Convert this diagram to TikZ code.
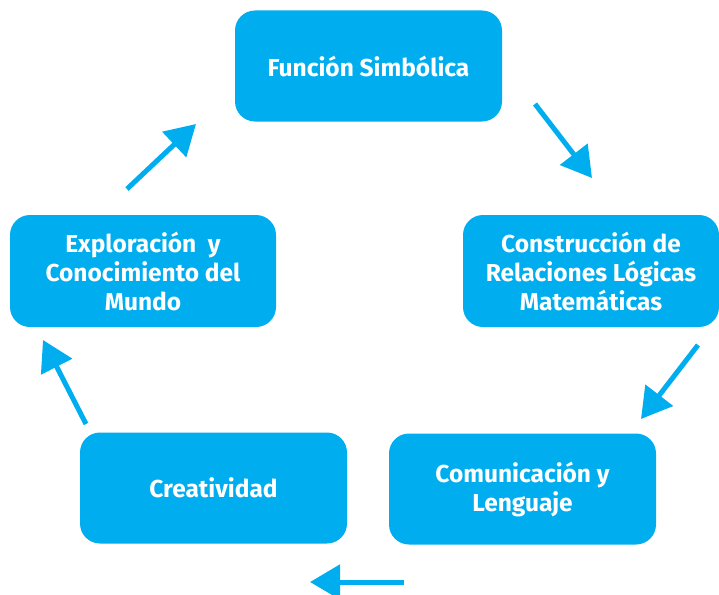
\documentclass[tikz,border=0pt]{standalone}
\usepackage{fontspec}
\setmainfont{Fira Sans}
\usetikzlibrary{arrows.meta}
\definecolor{boxblue}{HTML}{00AEEF}
\tikzset{
	etapa/.style={draw=none,fill=boxblue,rounded corners=20pt,text=white,align=center,
		minimum width=267pt,minimum height=111pt,inner sep=2pt,
		font=\bfseries\fontsize{24.5}{29}\selectfont},
	flecha/.style={boxblue,line width=5pt,-{Triangle[length=30pt,width=34pt]}}
}
\begin{document}
\begin{tikzpicture}[x=1pt,y=-1pt]
	\useasboundingbox (0,0) rectangle (719,594);
	\node[etapa] (simb) at (368.5,66) {Función Simbólica};
	\node[etapa,minimum width=256pt,minimum height=112pt] (logica) at (591,271) {Construcción de\\Relaciones Lógicas\\Matemáticas};
	\node[etapa] (comun) at (522.5,489) {Comunicación y\\Lenguaje};
	\node[etapa] (creat) at (213.5,488) {Creatividad};
	\node[etapa,minimum width=266pt,minimum height=112pt] (explo) at (143,271) {Exploración\ \ y\\Conocimiento del\\Mundo};
	% flechas del ciclo
	\coordinate (a1) at (535,104); \coordinate (b1) at (592,178);
	\coordinate (a2) at (698,345); \coordinate (b2) at (641,419);
	\coordinate (a3) at (404,582); \coordinate (b3) at (310,582);
	\coordinate (a4) at (86,424);  \coordinate (b4) at (43,340);
	\coordinate (a5) at (127,189); \coordinate (b5) at (196,124);
	\foreach \i in {1,...,5} \draw[flecha] (a\i) -- (b\i);
\end{tikzpicture}
\end{document}
